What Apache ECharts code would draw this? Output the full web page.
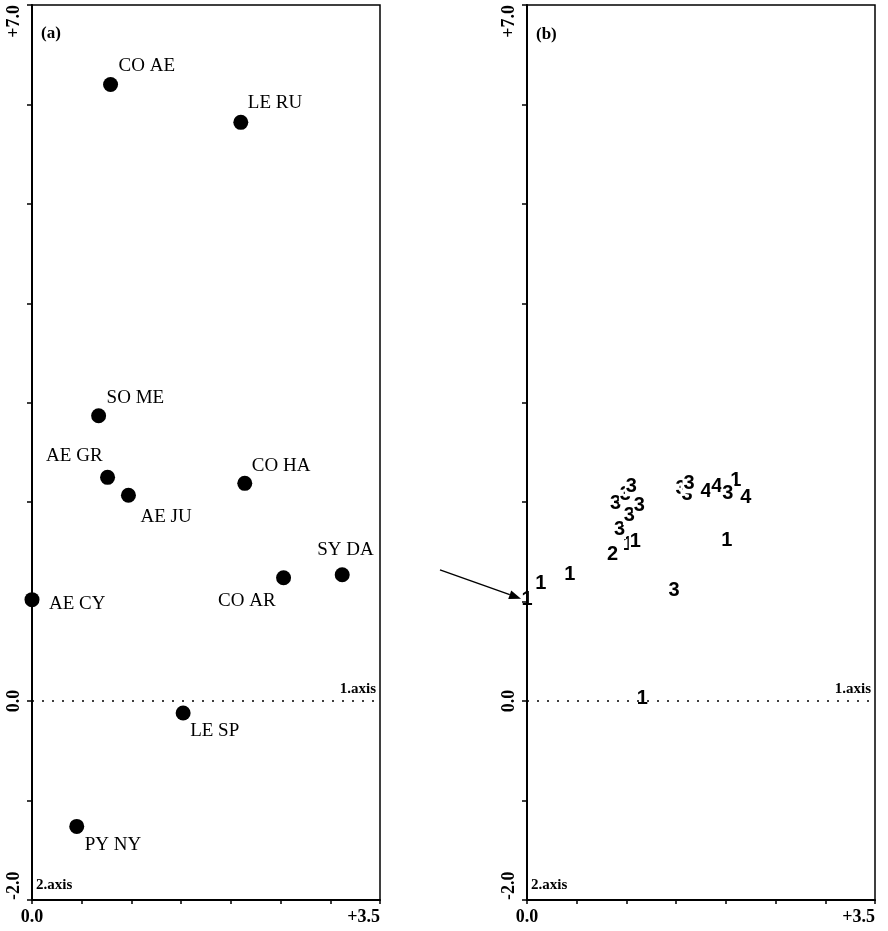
<!DOCTYPE html>
<html>
<head>
<meta charset="utf-8">
<script src="https://cdn.jsdelivr.net/npm/echarts@6/dist/echarts.min.js"></script>
<style>
html, body { margin: 0; padding: 0; background: #fff; }
#chart { width: 888px; height: 931px; }
</style>
</head>
<body>
<div id="chart"></div>
<script>
// (a) species scores on the first two axes
var speciesNames = ['CO AE', 'LE RU', 'SO ME', 'AE GR', 'AE JU', 'CO HA', 'SY DA', 'CO AR', 'AE CY', 'LE SP', 'PY NY'];
var speciesAxis1 = [0.79, 2.10, 0.67, 0.76, 0.97, 2.14, 3.12, 2.53, 0.00, 1.52, 0.45];
var speciesAxis2 = [6.20, 5.82, 2.87, 2.25, 2.07, 2.19, 1.27, 1.24, 1.02, -0.12, -1.26];
// where each name sits next to its dot: dx, dy, align
var speciesLabelPos = [
    [8, -19, 'left'], [7, -19, 'left'], [8, -18, 'left'], [-5, -21, 'right'],
    [12, 22, 'left'], [7, -17, 'left'], [-25, -25, 'left'], [-8, 23, 'right'],
    [17, 4, 'left'], [7, 18, 'left'], [8, 19, 'left']
];

// (b) sample scores, plotted as their group number
var sampleGroup = ['1', '1', '1', '2', '1', '1', '3', '3', '3', '3', '3', '3',
                   '3', '3', '3', '4', '4', '1', '3', '4', '1', '3', '1'];
var sampleAxis1 = [0.00, 0.14, 0.43, 0.86, 1.02, 1.09, 0.93, 0.89, 0.99, 1.03, 1.13, 1.05,
                   1.55, 1.61, 1.63, 1.80, 1.91, 2.10, 2.02, 2.20, 2.01, 1.48, 1.16];
var sampleAxis2 = [1.02, 1.18, 1.27, 1.47, 1.57, 1.61, 1.73, 1.99, 2.08, 1.87, 1.97, 2.16,
                   2.14, 2.08, 2.19, 2.11, 2.16, 2.22, 2.09, 2.05, 1.62, 1.11, 0.03];

// arrow pointing at the sample that sits on the 2nd axis (panel b coordinates)
var arrowFrom = [-0.875, 1.32];
var arrowTo = [-0.06, 1.03];

var yTickLabels = { '-2': '-2.0', '0': '0.0', '7': '+7.0' };
var xTickLabels = { '0': '0.0', '3.5': '+3.5' };

var serif = 'Liberation Serif';
var chart = echarts.init(document.getElementById('chart'));

function makeXAxis(idx) {
    return {
        gridIndex: idx, type: 'value', min: 0, max: 3.5, interval: 0.5,
        axisLine: { onZero: false, lineStyle: { color: '#000', width: 2 } },
        axisTick: { inside: false, length: 4, lineStyle: { color: '#000', width: 1.5 } },
        splitLine: { show: false },
        axisLabel: {
            formatter: function (v) { return xTickLabels[String(v)] || ''; },
            interval: 0, showMinLabel: true, showMaxLabel: true, alignMaxLabel: 'right',
            color: '#000', fontFamily: serif, fontWeight: 'bold', fontSize: 18, margin: 8
        }
    };
}
function makeYAxis(idx) {
    return {
        gridIndex: idx, type: 'value', min: -2, max: 7, interval: 1,
        axisLine: { onZero: false, lineStyle: { color: '#000', width: 2 } },
        axisTick: { inside: false, length: 5, lineStyle: { color: '#000', width: 1.5 } },
        splitLine: { show: false },
        axisLabel: {
            rotate: 90,
            formatter: function (v) { return yTickLabels[String(v)] || ''; },
            interval: 0, showMinLabel: true, showMaxLabel: true,
            alignMinLabel: 'left', alignMaxLabel: 'right',
            color: '#000', fontFamily: serif, fontWeight: 'bold', fontSize: 18, margin: 9
        }
    };
}
var zeroLineLabel = {
    show: true, position: 'insideEndTop', formatter: '1.axis', distance: 4,
    color: '#000', fontFamily: serif, fontWeight: 'bold', fontSize: 15
};
var dottedStyle = { color: '#000', type: [2, 8], width: 1.5, opacity: 1 };

var speciesData = speciesNames.map(function (name, i) {
    var p = speciesLabelPos[i];
    return {
        name: name,
        value: [speciesAxis1[i], speciesAxis2[i]],
        label: { offset: [p[0], p[1]], align: p[2] }
    };
});

var sampleData = sampleGroup.map(function (g, i) {
    var onAxis = sampleAxis1[i] === 0;
    return {
        value: [sampleAxis1[i], sampleAxis2[i], g],
        label: { backgroundColor: onAxis ? 'transparent' : '#fff' }
    };
});

var panelTexts = [
    { type: 'text', left: 41, top: 25, style: { text: '(a)', fill: '#000', font: 'bold 17px "Liberation Serif"' } },
    { type: 'text', left: 536, top: 26, style: { text: '(b)', fill: '#000', font: 'bold 17px "Liberation Serif"' } },
    { type: 'text', left: 36, top: 878, style: { text: '2.axis', fill: '#000', font: 'bold 15px "Liberation Serif"' } },
    { type: 'text', left: 531, top: 878, style: { text: '2.axis', fill: '#000', font: 'bold 15px "Liberation Serif"' } }
];

var option = {
    animation: false,
    backgroundColor: '#fff',
    grid: [
        { left: 32, top: 5, width: 348, height: 895, show: true, borderColor: '#000', borderWidth: 1.5 },
        { left: 527, top: 5, width: 348, height: 895, show: true, borderColor: '#000', borderWidth: 1.5 }
    ],
    xAxis: [makeXAxis(0), makeXAxis(1)],
    yAxis: [makeYAxis(0), makeYAxis(1)],
    graphic: panelTexts,
    series: [
        {
            type: 'scatter', xAxisIndex: 0, yAxisIndex: 0,
            symbol: 'circle', symbolSize: 15,
            itemStyle: { color: '#000', opacity: 1 },
            label: {
                show: true, position: 'inside', formatter: '{b}',
                verticalAlign: 'middle',
                color: '#000', fontFamily: serif, fontSize: 19
            },
            data: speciesData,
            markLine: {
                silent: true, symbol: 'none',
                lineStyle: dottedStyle, label: zeroLineLabel,
                data: [{ yAxis: 0 }]
            }
        },
        {
            type: 'scatter', xAxisIndex: 1, yAxisIndex: 1, clip: false,
            symbol: 'circle', symbolSize: 0.1,
            itemStyle: { color: 'rgba(0,0,0,0)', opacity: 1 },
            label: {
                show: true, position: 'inside',
                formatter: function (p) { return p.value[2]; },
                color: '#000', fontFamily: 'Liberation Sans', fontWeight: 'bold', fontSize: 20,
                padding: [0, 1, 0, 1]
            },
            data: sampleData,
            markLine: {
                silent: true, symbol: 'none',
                lineStyle: dottedStyle, label: zeroLineLabel,
                data: [{ yAxis: 0 }]
            }
        }
    ]
};

chart.setOption(option);

// the arrow lies left of panel (b)'s axis, so place it through the panel's scale
var p0 = chart.convertToPixel({ gridIndex: 1 }, arrowFrom);
var p1 = chart.convertToPixel({ gridIndex: 1 }, arrowTo);
var ang = Math.atan2(p1[1] - p0[1], p1[0] - p0[0]);
var headLen = 12, headHalf = 4.5;
var base = [p1[0] - headLen * Math.cos(ang), p1[1] - headLen * Math.sin(ang)];
var nx = -Math.sin(ang), ny = Math.cos(ang);
chart.setOption({
    graphic: panelTexts.concat([
        {
            type: 'line', silent: true,
            shape: { x1: p0[0], y1: p0[1], x2: base[0], y2: base[1] },
            style: { stroke: '#000', lineWidth: 1.5 }
        },
        {
            type: 'polygon', silent: true,
            shape: { points: [p1, [base[0] + nx * headHalf, base[1] + ny * headHalf], [base[0] - nx * headHalf, base[1] - ny * headHalf]] },
            style: { fill: '#000' }
        }
    ])
});
</script>
</body>
</html>
